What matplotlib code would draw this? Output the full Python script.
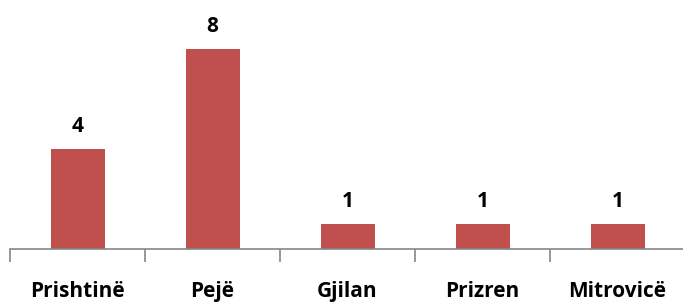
import matplotlib
matplotlib.use("Agg")
import matplotlib.pyplot as plt
from matplotlib.ticker import FixedLocator

cities = ["Prishtinë", "Pejë", "Gjilan", "Prizren", "Mitrovicë"]
counts = [4, 8, 1, 1, 1]

BAR = "#C0504D"
AX = "#868686"
plt.rcParams["font.family"] = ["Open Sans", "DejaVu Sans"]

fig = plt.figure(figsize=(6.83, 3.02), dpi=100)
ax = fig.add_axes([10 / 683, 53 / 302, 675 / 683, 249 / 302])

x = list(range(len(cities)))
ax.bar(x, counts, width=0.4, color=BAR)
for xi, v in zip(x, counts):
    ax.text(xi, v + 0.48, str(v), ha="center", va="bottom",
            fontsize=15, fontweight="bold", color="black")

ax.set_xlim(-0.5, len(cities) - 0.5)
ax.set_ylim(0, 9.96)

ax.set_xticks(x)
ax.set_xticklabels(cities, fontsize=15, fontweight="bold")
ax.tick_params(axis="x", which="major", length=0, pad=23)
ax.xaxis.set_minor_locator(FixedLocator([i - 0.5 for i in range(len(cities) + 1)]))
ax.tick_params(axis="x", which="minor", length=9, width=1.2, color=AX, direction="out")
ax.set_yticks([])

for s in ("top", "right", "left"):
    ax.spines[s].set_visible(False)
ax.spines["bottom"].set_color(AX)
ax.spines["bottom"].set_linewidth(1.2)

fig.savefig("out.png", dpi=100)
